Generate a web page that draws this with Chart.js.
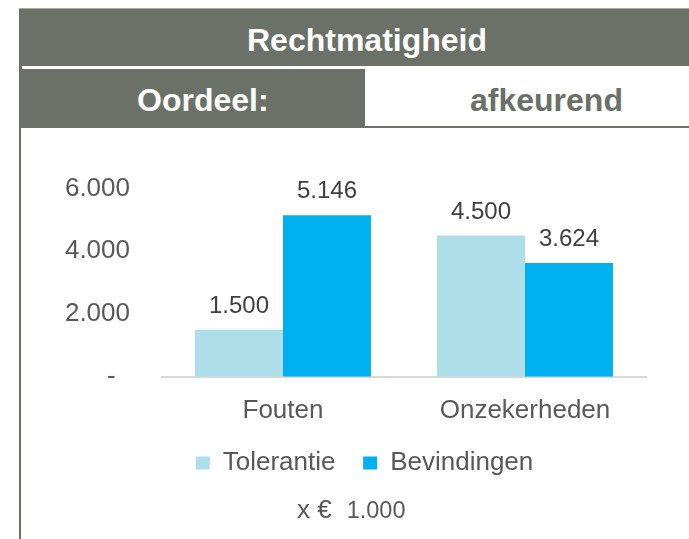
<!DOCTYPE html>
<html>
<head>
  <title>Rechtmatigheid</title>
  <script src="https://cdn.jsdelivr.net/npm/chart.js"></script>
  <style>
    body { margin: 0; width: 689px; height: 539px; overflow: hidden; background: #fff; position: relative; font-family: "Liberation Sans", Arial, sans-serif; }
    .abs { position: absolute; }
    .hdr { background: #6b7068; }
    .txt { white-space: nowrap; font-weight: bold; font-size: 32px; line-height: 32px; }
  </style>
</head>
<body>
  <!-- kop -->
  <div class="abs hdr" style="left:19px; top:8px; width:700px; height:58px; border-top:1px solid #a9aca6; box-sizing:border-box;"></div>
  <div class="abs txt" style="left:247px; top:24px; color:#fff;">Rechtmatigheid</div>
  <div class="abs hdr" style="left:19px; top:66px; width:3px; height:3px;"></div>
  <div class="abs hdr" style="left:19px; top:69px; width:346px; height:57px;"></div>
  <div class="abs txt" style="left:137px; top:84px; color:#fff;">Oordeel:</div>
  <div class="abs txt" style="left:470px; top:84px; color:#6b7068;">afkeurend</div>
  <div class="abs hdr" style="left:19px; top:126px; width:700px; height:2px;"></div>
  <div class="abs hdr" style="left:19px; top:126px; width:2px; height:413px;"></div>

  <canvas id="chart" class="abs" style="left:22px; top:130px;"></canvas>

  <div class="abs" style="left:297px; top:494px; white-space:nowrap; color:#595959;">
    <span style="font-size:26px;">x €</span><span style="font-size:23.5px; margin-left:15px;">1.000</span>
  </div>

  <script>
    // gegevens
    var categorieen = ["Fouten", "Onzekerheden"];
    var tolerantie = [1500, 4500];
    var bevindingen = [5146, 3624];
    var yTicks = [0, 2000, 4000, 6000];

    function nl(v) {
      if (v === 0) return "-  ";
      return String(Math.round(v)).replace(/\B(?=(\d{3})+(?!\d))/g, ".");
    }

    var canvas = document.getElementById("chart");
    canvas.width = 685;
    canvas.height = 409;
    canvas.style.width = "685px";
    canvas.style.height = "409px";

    var labelPlugin = {
      id: "waardes",
      afterDatasetsDraw: function(chart) {
        var ctx = chart.ctx;
        ctx.save();
        ctx.font = "24px 'Liberation Sans', Arial, sans-serif";
        ctx.fillStyle = "#404040";
        ctx.textAlign = "center";
        ctx.textBaseline = "alphabetic";
        chart.data.datasets.forEach(function(ds, i) {
          chart.getDatasetMeta(i).data.forEach(function(bar, j) {
            ctx.fillText(nl(ds.data[j]), bar.x, bar.y - 17);
          });
        });
        ctx.restore();
      }
    };

    new Chart(canvas, {
      type: "bar",
      data: {
        labels: categorieen,
        datasets: [{
          label: "Tolerantie",
          data: tolerantie,
          backgroundColor: "#addeea",
          borderWidth: 0
        }, {
          label: "Bevindingen",
          data: bevindingen,
          backgroundColor: "#00b0f0",
          borderWidth: 0
        }]
      },
      options: {
        responsive: false,
        animation: false,
        layout: { padding: { top: 58.5, left: 0, right: 0, bottom: 53 } },
        datasets: { bar: { categoryPercentage: 0.727, barPercentage: 1 } },
        plugins: {
          legend: {
            position: "bottom",
            labels: {
              boxWidth: 14,
              boxHeight: 13,
              padding: 6,
              color: "#595959",
              font: { family: "'Liberation Sans', Arial, sans-serif", size: 26 },
              generateLabels: function(chart) {
                var items = Chart.defaults.plugins.legend.labels.generateLabels(chart);
                items[0].text = items[0].text + "   ";
                return items;
              }
            }
          },
          tooltip: { enabled: false }
        },
        scales: {
          x: {
            grid: { display: false, drawTicks: false },
            border: { display: true, color: "#d9d9d9", width: 2 },
            ticks: {
              padding: 18,
              color: "#595959",
              font: { family: "'Liberation Sans', Arial, sans-serif", size: 26 }
            }
          },
          y: {
            min: 0,
            max: 6000,
            afterFit: function(s) { s.width = 140; },
            afterBuildTicks: function(s) { s.ticks = yTicks.map(function(v) { return { value: v }; }); },
            grid: { display: false, drawTicks: false },
            border: { display: false },
            ticks: {
              padding: 32,
              color: "#595959",
              font: { family: "'Liberation Sans', Arial, sans-serif", size: 26 },
              callback: function(v) { return nl(v); }
            }
          },
          rechts: {
            type: "linear",
            position: "right",
            afterFit: function(s) { s.width = 61; },
            grid: { display: false, drawTicks: false },
            border: { display: false },
            ticks: { display: false }
          }
        }
      },
      plugins: [labelPlugin]
    });
  </script>
</body>
</html>
